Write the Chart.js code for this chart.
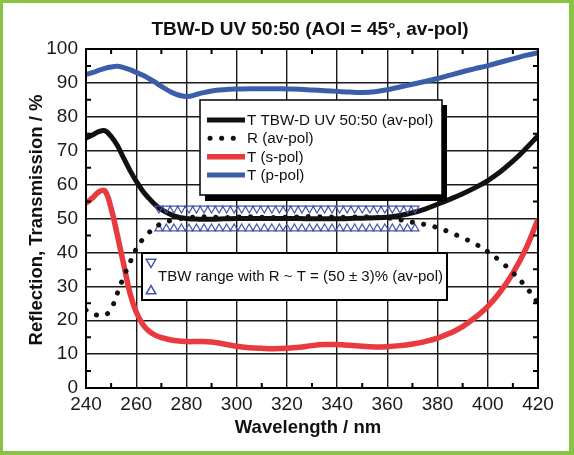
<!DOCTYPE html>
<html><head><meta charset="utf-8">
<script src="https://cdn.jsdelivr.net/npm/chart.js@4/dist/chart.umd.min.js"></script>
<style>html,body{margin:0;padding:0;background:#fff;overflow:hidden}#wrap{width:574px;height:455px}</style>
</head><body><div id="wrap"><canvas id="c" width="574" height="455"></canvas></div>
<script>
const titleText = 'TBW-D UV 50:50 (AOI = 45°, av-pol)';
const xTitle = 'Wavelength / nm';
const yTitle = 'Reflection, Transmission / %';
const seriesLabels = ['T TBW-D UV 50:50 (av-pol)', 'R (av-pol)', 'T (s-pol)', 'T (p-pol)'];
const rangeLabel = 'TBW range with R ~ T = (50 ± 3)% (av-pol)';

const wavelengths = [240, 242.5, 245, 247.5, 250, 252.5, 255, 257.5, 260, 262.5, 265, 267.5, 270,
  275, 280, 285, 290, 295, 300, 305, 310, 315, 320, 325, 330, 335, 340, 345, 350, 355, 360,
  365, 370, 375, 380, 385, 390, 395, 400, 405, 410, 415, 420];
const tAvPol = [73.7, 74.6, 75.6, 75.9, 74.2, 71.5, 67.8, 64.2, 61.0, 58.2, 56.0, 54.1, 52.6,
  50.8, 50.0, 49.8, 49.8, 49.9, 50.0, 50.0, 50.0, 50.0, 50.0, 50.0, 49.9, 49.9, 49.9, 50.0, 50.1, 50.2, 50.4,
  50.9, 51.7, 52.8, 54.2, 55.7, 57.3, 59.1, 61.2, 63.8, 66.9, 70.5, 74.4];
const rAvPol = [23.0, 22.0, 21.4, 21.4, 23.3, 28.0, 32.8, 37.0, 41.0, 43.8, 45.8, 47.3, 48.5,
  49.6, 50.2, 50.5, 50.4, 50.3, 50.4, 50.5, 50.4, 50.3, 50.4, 50.5, 50.6, 50.5, 50.4, 50.4, 50.5, 50.4, 50.2,
  49.6, 48.9, 48.2, 47.3, 45.9, 44.3, 42.5, 40.2, 37.4, 34.0, 30.0, 25.0];
const tSPol = [54.5, 56.0, 57.8, 58.2, 53.0, 45.0, 36.5, 28.0, 22.4, 18.9, 16.8, 15.6, 14.9,
  14.0, 13.7, 13.7, 13.6, 13.0, 12.3, 11.9, 11.7, 11.6, 11.7, 12.0, 12.5, 12.8, 12.8, 12.6, 12.3, 12.1, 12.2,
  12.5, 13.0, 13.7, 14.7, 16.2, 18.1, 20.8, 24.1, 28.4, 33.9, 40.8, 49.8];
const tPPol = [92.5, 93.0, 93.7, 94.3, 94.7, 94.9, 94.5, 93.9, 93.1, 92.3, 91.3, 90.2, 89.0,
  86.9, 86.0, 86.8, 87.6, 88.0, 88.2, 88.3, 88.3, 88.3, 88.2, 88.1, 87.9, 87.7, 87.5, 87.3, 87.2, 87.4, 88.0,
  88.8, 89.6, 90.4, 91.3, 92.3, 93.3, 94.2, 95.1, 96.1, 97.1, 98.1, 98.9];

const rangeWavelengths = [269, 272, 275, 278, 281, 284, 287, 290, 293, 296, 299, 302, 305, 308, 311,
  314, 317, 320, 323, 326, 329, 332, 335, 338, 341, 344, 347, 350, 353, 356, 359, 362, 365, 368, 371];
const rangeUpper = 53;
const rangeLower = 47;

const FONT = '"Liberation Sans", Arial, Helvetica, sans-serif';
const BLUE = '#3c5eaa';
const RED = '#e83a3f';
const TRI = '#4456a8';

const pts = arr => wavelengths.map((w, i) => ({x: w, y: arr[i]}));
const rangePts = v => rangeWavelengths.map(w => ({x: w, y: v}));

const bgPlugin = {
  id: 'bg',
  beforeDraw(chart) {
    const c = chart.ctx;
    c.save();
    c.fillStyle = '#86c441';
    c.fillRect(0, 0, chart.width, chart.height);
    c.fillStyle = '#ffffff';
    c.fillRect(3, 3, 566, 448);
    c.restore();
  }
};

const framePlugin = {
  id: 'frame',
  afterDatasetsDraw(chart) {
    const {ctx, chartArea: a, scales: {x, y}} = chart;
    ctx.save();
    ctx.strokeStyle = '#000';
    ctx.lineWidth = 2;
    ctx.strokeRect(a.left, a.top, a.right - a.left, a.bottom - a.top);
    ctx.beginPath();
    const xt = x.ticks;
    for (let i = 0; i < xt.length - 1; i++) {
      const px = x.getPixelForValue((xt[i].value + xt[i + 1].value) / 2);
      ctx.moveTo(px, a.bottom); ctx.lineTo(px, a.bottom - 5);
      ctx.moveTo(px, a.top); ctx.lineTo(px, a.top + 5);
    }
    const yt = y.ticks;
    for (let i = 0; i < yt.length - 1; i++) {
      const py = y.getPixelForValue((yt[i].value + yt[i + 1].value) / 2);
      ctx.moveTo(a.left, py); ctx.lineTo(a.left + 5, py);
      ctx.moveTo(a.right, py); ctx.lineTo(a.right - 5, py);
    }
    ctx.stroke();
    ctx.restore();
  }
};

function tri(ctx, cx, cy, r, down) {
  const w = r * 0.866;
  ctx.beginPath();
  if (down) {
    ctx.moveTo(cx - w, cy - r / 2); ctx.lineTo(cx + w, cy - r / 2); ctx.lineTo(cx, cy + r);
  } else {
    ctx.moveTo(cx - w, cy + r / 2); ctx.lineTo(cx + w, cy + r / 2); ctx.lineTo(cx, cy - r);
  }
  ctx.closePath();
  ctx.stroke();
}

const textPlugin = {
  id: 'texts',
  afterDraw(chart) {
    const ctx = chart.ctx;
    ctx.save();
    ctx.fillStyle = '#111';
    ctx.font = 'bold 19px ' + FONT;
    ctx.textAlign = 'center';
    ctx.textBaseline = 'alphabetic';
    ctx.fillText(titleText, 310, 35);
    ctx.font = 'bold 18.5px ' + FONT;
    ctx.fillText(xTitle, 308, 433);
    ctx.save();
    ctx.translate(42, 220);
    ctx.rotate(-Math.PI / 2);
    ctx.fillText(yTitle, 0, 0);
    ctx.restore();

    // legend 1
    ctx.fillStyle = '#000';
    ctx.fillRect(205, 105, 242, 96);
    ctx.fillStyle = '#fff';
    ctx.fillRect(200, 100, 242, 95);
    ctx.strokeStyle = '#000';
    ctx.lineWidth = 1.5;
    ctx.strokeRect(200, 100, 242, 95);
    const rows = [120, 138.3, 156.7, 175];
    const ds = chart.data.datasets;
    ctx.font = '15.2px ' + FONT;
    ctx.textAlign = 'left';
    ctx.textBaseline = 'middle';
    for (let i = 0; i < 4; i++) {
      const d = ds[i];
      ctx.save();
      ctx.strokeStyle = d.borderColor;
      ctx.lineWidth = d.borderWidth;
      ctx.lineCap = d.borderCapStyle || 'butt';
      ctx.setLineDash(d.borderDash || []);
      ctx.beginPath();
      if (d.borderDash) { ctx.moveTo(210, rows[i]); ctx.lineTo(234, rows[i]); }
      else { ctx.moveTo(207, rows[i]); ctx.lineTo(245, rows[i]); }
      ctx.stroke();
      ctx.restore();
      ctx.fillStyle = '#111';
      ctx.fillText(d.label, 247, rows[i] + 1);
    }

    // legend 2
    ctx.fillStyle = '#fff';
    ctx.fillRect(142, 253, 305, 47);
    ctx.strokeStyle = '#000';
    ctx.lineWidth = 2;
    ctx.strokeRect(142, 253, 305, 47);
    ctx.strokeStyle = TRI;
    ctx.lineWidth = 1.5;
    tri(ctx, 151, 262, 5.5, true);
    tri(ctx, 151, 291, 5.5, false);
    ctx.fillStyle = '#111';
    ctx.font = '15px ' + FONT;
    ctx.fillText(rangeLabel, 158, 277);
    ctx.restore();
  }
};

const lineDs = (label, data, color, extra) => Object.assign({
  label, data: pts(data), borderColor: color, borderWidth: 5, pointRadius: 0,
  tension: 0.4, fill: false, order: 1
}, extra || {});

new Chart(document.getElementById('c'), {
  type: 'line',
  data: {
    datasets: [
      lineDs(seriesLabels[0], tAvPol, '#111111'),
      lineDs(seriesLabels[1], rAvPol, '#111111', {borderDash: [0.1, 11.5], borderCapStyle: 'round', borderWidth: 5, order: 0}),
      lineDs(seriesLabels[2], tSPol, RED, {borderWidth: 5.5}),
      lineDs(seriesLabels[3], tPPol, BLUE),
      {label: 'upper', data: rangePts(rangeUpper), showLine: false, pointStyle: 'triangle', pointRotation: 180, order: 0,
        pointRadius: 4.6, borderColor: TRI, backgroundColor: 'rgba(255,255,255,0)', borderWidth: 1.2, pointHoverRadius: 4.6},
      {label: 'lower', data: rangePts(rangeLower), showLine: false, pointStyle: 'triangle', pointRotation: 0, order: 0,
        pointRadius: 4.6, borderColor: TRI, backgroundColor: 'rgba(255,255,255,0)', borderWidth: 1.2, pointHoverRadius: 4.6}
    ]
  },
  options: {
    responsive: false,
    animation: false,
    events: [],
    layout: {padding: {left: 0, top: 49, right: 36, bottom: 0}},
    plugins: {legend: {display: false}, tooltip: {enabled: false}, title: {display: false}},
    scales: {
      x: {
        type: 'linear', min: 240, max: 420,
        ticks: {stepSize: 20, color: '#1a1a1a', font: {family: FONT, size: 19}, padding: 5, maxRotation: 0},
        grid: {color: '#1a1a1a', lineWidth: 1.4, drawTicks: false},
        border: {display: true, color: '#000', width: 2},
        afterFit(s) { s.height = 67; }
      },
      y: {
        type: 'linear', min: 0, max: 100,
        ticks: {stepSize: 10, color: '#1a1a1a', font: {family: FONT, size: 19}, padding: 8},
        grid: {color: '#1a1a1a', lineWidth: 1.4, drawTicks: false},
        border: {display: true, color: '#000', width: 2},
        afterFit(s) { s.width = 86; }
      }
    }
  },
  plugins: [bgPlugin, framePlugin, textPlugin]
});
</script>
</body></html>
